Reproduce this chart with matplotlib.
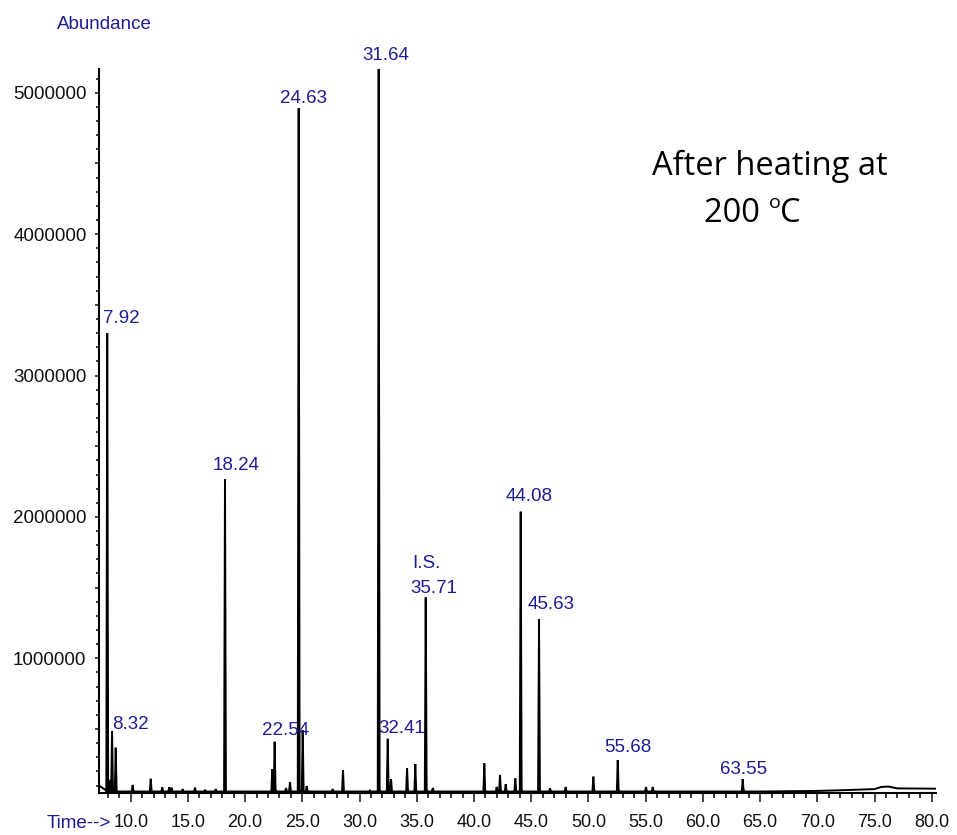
import numpy as np
import matplotlib
matplotlib.use("Agg")
import matplotlib.pyplot as plt
from matplotlib.ticker import MultipleLocator, FuncFormatter

plt.rcParams['font.family'] = ['Liberation Sans', 'DejaVu Sans']

# retention time (min) and apex abundance of each peak
peak_rt = [7.95, 8.20, 8.37, 8.69, 10.17, 11.75, 12.76, 13.37, 13.58, 14.54,
           15.62, 16.50, 17.43, 18.24, 22.37, 22.58, 23.57, 23.92, 24.68, 25.03,
           25.38, 27.65, 28.55, 30.90, 31.67, 32.46, 32.75, 34.15, 34.87, 35.78,
           36.40, 40.90, 41.98, 42.27, 42.77, 43.61, 44.08, 45.68, 46.64, 48.01,
           50.43, 52.56, 55.03, 55.62, 63.48]
peak_abund = [3300000, 140000, 486000, 368000, 104000, 148000, 88000, 88000, 85000, 75000,
              85000, 70000, 75000, 2266000, 217000, 410000, 83000, 125000, 4890000, 490000,
              97000, 75000, 210000, 65000, 5170000, 431000, 146000, 224000, 252000, 1431000,
              83000, 257000, 90000, 175000, 110000, 150000, 2037000, 1276000, 80000, 90000,
              163000, 280000, 90000, 90000, 146000]

# baseline level and the slow drift at both ends of the run
base_level = 58000
drift_t = [7.23, 7.60, 7.85, 65.0, 70.0, 72.5, 75.0, 75.6, 76.2, 77.0, 80.37]
drift_y = [100000, 80000, 66000, 58000, 62000, 68000, 75000, 90000, 93000, 80000, 78000]

# labelled peaks: printed label and the peak it sits on
label_text = ['7.92', '8.32', '18.24', '22.54', '24.63', '31.64', '32.41',
              '35.71', '44.08', '45.63', '55.68', '63.55']
label_peak = [7.95, 8.37, 18.24, 22.58, 24.68, 31.67, 32.46,
              35.78, 44.08, 45.68, 52.56, 63.48]
# label centre offset from apex, pixels (dx, dy)
label_off = [(14, 17), (18, 8), (11.5, 16), (11, 13.5), (5, 12), (7, 15), (14, 12),
             (8, 11), (8, 17), (12, 17), (10, 15), (1, 12)]

x_ticks = np.arange(10, 80.1, 5)
y_ticks = [1000000, 2000000, 3000000, 4000000, 5000000]

# build the trace
half_w = 0.08
pts = list(zip(drift_t, drift_y))
for rt, h in zip(peak_rt, peak_abund):
    pts += [(rt - half_w, base_level), (rt, h), (rt + half_w, base_level)]
pts.sort(key=lambda p: p[0])
tt = np.array([p[0] for p in pts])
yy = np.array([p[1] for p in pts])

fig = plt.figure(figsize=(9.57, 8.35), dpi=100)
ax = fig.add_axes([99 / 957, 1 - 792.7 / 835, (936 - 99) / 957, (792.7 - 69) / 835])

ax.plot(tt, yy, color='black', lw=1.4, solid_joinstyle='miter', zorder=3)
ax.plot(label_peak, [base_level] * len(label_peak), linestyle='none', marker='^',
        ms=3.5, color='#cc0000', zorder=2)

blue = '#1c1c95'
apex = dict(zip(peak_rt, peak_abund))
for txt, rt, (dx, dy) in zip(label_text, label_peak, label_off):
    ax.annotate(txt, xy=(rt, apex[rt]), xytext=(dx, dy - 6.5), textcoords='offset pixels',
                ha='center', va='baseline', fontsize=13.5, color=blue, annotation_clip=False)
ax.annotate('I.S.', xy=(35.78, apex[35.78]), xytext=(1, 36 - 6.5), textcoords='offset pixels',
            ha='center', va='baseline', fontsize=13.5, color=blue)

ax.set_xlim(7.23, 80.37)
ax.set_ylim(49500, 5168000)
for s in ['top', 'right']:
    ax.spines[s].set_visible(False)
for s in ['left', 'bottom']:
    ax.spines[s].set_linewidth(1.5)

ax.set_xticks(x_ticks)
ax.set_xticklabels(['%.1f' % v for v in x_ticks])
ax.xaxis.set_minor_locator(MultipleLocator(1))
ax.yaxis.set_major_locator(MultipleLocator(500000))
ax.yaxis.set_major_formatter(FuncFormatter(lambda v, p: '%d' % v if int(round(v)) in y_ticks else ''))
ax.yaxis.set_minor_locator(MultipleLocator(100000))
ax.tick_params(axis='x', which='major', length=6.5, width=1.1, labelsize=13, pad=9, colors='#111111')
ax.tick_params(axis='x', which='minor', length=3.6, width=1.1)
ax.tick_params(axis='y', which='major', length=3, width=1.1, labelsize=13.5, pad=6, colors='#111111')
ax.tick_params(axis='y', which='minor', length=2, width=1.1)

fig.text(57 / 957, 1 - 28.7 / 835, 'Abundance', fontsize=13.5, color=blue, va='baseline')
fig.text(47 / 957, 1 - 828.5 / 835, 'Time-->', fontsize=13.5, color=blue, va='baseline')

fig.text(652 / 957, 1 - 175 / 835, 'After heating at', fontsize=23.5, family='Open Sans',
         va='baseline', color='black')

# "200 oC" with a small raised o, pieced together
r = fig.canvas.get_renderer()
t1 = fig.text(704 / 957, 1 - 222 / 835, '200 ', fontsize=23.5, family='Open Sans',
              va='baseline', color='black')
x1 = t1.get_window_extent(r).x1
t2 = fig.text(x1 / 957, 1 - 208 / 835, 'o', fontsize=14, family='Open Sans',
              va='baseline', color='black')
x2 = t2.get_window_extent(r).x1
fig.text(x2 / 957, 1 - 222 / 835, 'C', fontsize=23.5, family='Open Sans',
         va='baseline', color='black')

fig.savefig('out.png', dpi=100)
